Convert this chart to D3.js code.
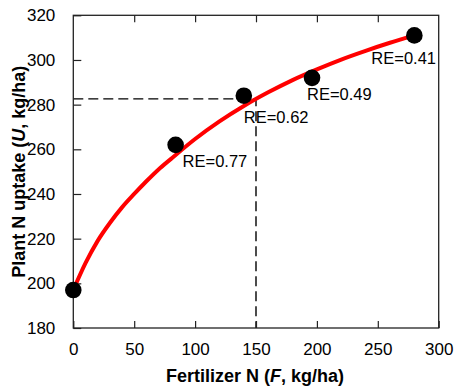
<!DOCTYPE html>
<html>
<head>
<meta charset="utf-8">
<script src="https://cdn.jsdelivr.net/npm/d3@7"></script>
<style>
  body { margin: 0; background: #fff; }
  text { font-family: Arial, "Liberation Sans", sans-serif; fill: #000; }
</style>
</head>
<body>
<div id="chart"></div>
<script>
var width = 456;
var height = 389;

// measured points: fertilizer N vs plant N uptake
var fertN = [0, 84, 140, 196, 280];
var uptake = [197, 262, 284, 292, 311];
var reLabels = ["", "RE=0.77", "RE=0.62", "RE=0.49", "RE=0.41"];

// fitted response curve
var curveF = [0, 10, 20, 30, 40, 50, 60, 70, 80, 100, 120, 140, 160, 180, 200, 220, 240, 260, 280];
var curveU = [197, 209, 219, 227, 234, 240, 245.7, 251, 255.6, 264.6, 272.5, 279.4, 285.5, 291, 295.8, 300.2, 304.1, 307.7, 311];

// guide at F = 150
var guideF = 150;
var guideU = 282.6;

var xTicks = [0, 50, 100, 150, 200, 250, 300];
var yTicks = [180, 200, 220, 240, 260, 280, 300, 320];

var margin = {top: 15.3, right: 17.3, bottom: 61, left: 73.3};
var iw = width - margin.left - margin.right;
var ih = height - margin.top - margin.bottom;

var x = d3.scaleLinear().domain([0, 300]).range([0, iw]);
var y = d3.scaleLinear().domain([180, 320]).range([ih, 0]);

var svg = d3.select("#chart").append("svg")
  .attr("width", width)
  .attr("height", height);

var g = svg.append("g")
  .attr("transform", "translate(" + margin.left + "," + margin.top + ")");

// dashed guides
g.append("path")
  .attr("d", "M" + x(0) + "," + y(guideU) + "H" + x(guideF) + "V" + y(180))
  .style("fill", "none")
  .style("stroke", "#000")
  .style("stroke-width", 1.4)
  .style("stroke-dasharray", "10,5");

// axes, ticks pointing inward
var tickStyle = function(sel){
  sel.select(".domain").remove();
  sel.selectAll(".tick line").style("stroke", "#222").style("stroke-width", 1.2);
  sel.selectAll("text").style("font-size", "17px").style("font-family", "Arial, 'Liberation Sans', sans-serif");
};

g.append("g")
  .attr("transform", "translate(0," + ih + ")")
  .call(d3.axisBottom(x).tickValues(xTicks).tickSize(-7).tickPadding(15))
  .call(tickStyle);

g.append("g")
  .call(d3.axisTop(x).tickValues(xTicks.slice(1, -1)).tickSize(-7).tickFormat(""))
  .call(tickStyle);

g.append("g")
  .call(d3.axisLeft(y).tickValues(yTicks).tickSize(-8).tickPadding(18))
  .call(tickStyle);

g.append("rect")
  .attr("width", iw)
  .attr("height", ih)
  .style("fill", "none")
  .style("stroke", "#222")
  .style("stroke-width", 1.3);

// fitted curve
var line = d3.line()
  .x(function(d){ return x(d[0]); })
  .y(function(d){ return y(d[1]); })
  .curve(d3.curveMonotoneX);

g.append("path")
  .datum(d3.zip(curveF, curveU))
  .attr("d", line)
  .style("fill", "none")
  .style("stroke", "#ff0000")
  .style("stroke-width", 4);

var pts = d3.zip(fertN, uptake, reLabels);

g.selectAll("circle.pt")
  .data(pts)
  .enter()
  .append("circle")
  .attr("class", "pt")
  .attr("cx", function(d){ return x(d[0]); })
  .attr("cy", function(d){ return y(d[1]); })
  .attr("r", 8.3)
  .style("fill", "#000");

// label offsets from each point (px)
var labelDx = [0, 7, 0, -5, -43];
var labelDy = [0, 22, 27, 22, 29];

g.selectAll("text.re")
  .data(pts)
  .enter()
  .append("text")
  .attr("class", "re")
  .attr("x", function(d, i){ return x(d[0]) + labelDx[i]; })
  .attr("y", function(d, i){ return y(d[1]) + labelDy[i]; })
  .style("font-size", "16.5px")
  .text(function(d){ return d[2]; });

// axis titles
var xt = svg.append("text")
  .attr("x", margin.left + iw / 2 - 1)
  .attr("y", 381.5)
  .attr("text-anchor", "middle")
  .style("font-size", "18px")
  .style("font-weight", "bold");
xt.append("tspan").text("Fertilizer N (");
xt.append("tspan").style("font-style", "italic").text("F");
xt.append("tspan").text(", kg/ha)");

var yt = svg.append("text")
  .attr("transform", "translate(25," + (margin.top + ih / 2) + ") rotate(-90)")
  .attr("text-anchor", "middle")
  .style("font-size", "18px")
  .style("font-weight", "bold");
yt.append("tspan").text("Plant N uptake (");
yt.append("tspan").style("font-style", "italic").text("U");
yt.append("tspan").text(", kg/ha)");
</script>
</body>
</html>
